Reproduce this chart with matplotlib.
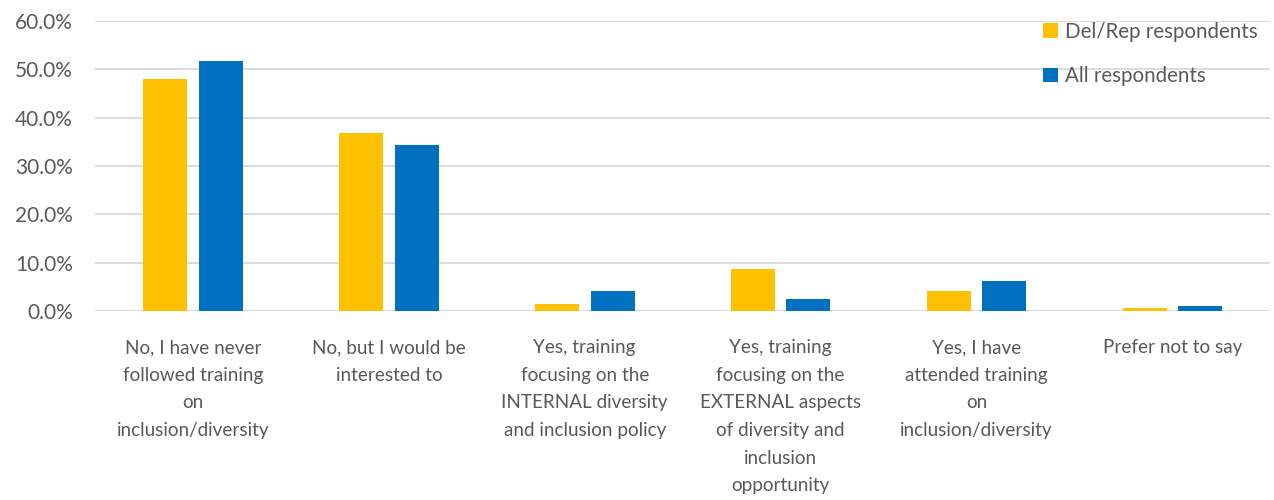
import numpy as np
import matplotlib.pyplot as plt
from matplotlib.ticker import FuncFormatter

plt.rcParams['font.family'] = ['Lato', 'DejaVu Sans']

categories = [
    "No, I have never\nfollowed training\non\ninclusion/diversity",
    "No, but I would be\ninterested to",
    "Yes, training\nfocusing on the\nINTERNAL diversity\nand inclusion policy",
    "Yes, training\nfocusing on the\nEXTERNAL aspects\nof diversity and\ninclusion\nopportunity",
    "Yes, I have\nattended training\non\ninclusion/diversity",
    "Prefer not to say",
]
delrep = [47.9, 36.8, 1.6, 8.7, 4.1, 0.6]
all_resp = [51.7, 34.3, 4.1, 2.5, 6.3, 1.0]

yellow = '#FFC000'
blue = '#0070C0'
text_col = '#595959'

fig = plt.figure(figsize=(12.74, 5.0), dpi=100)
ax = fig.add_axes([0.0746, 0.3774, 0.9225, 0.5812])

x = np.arange(len(categories))
w = 0.225
ax.bar(x - 0.142, delrep, w, color=yellow, label='Del/Rep respondents', zorder=3)
ax.bar(x + 0.142, all_resp, w, color=blue, label='All respondents', zorder=3)

ax.set_xlim(-0.5, len(categories) - 0.5)
ax.set_ylim(0, 60)
ax.set_yticks(np.arange(0, 61, 10))
ax.yaxis.set_major_formatter(FuncFormatter(lambda v, p: f'{v:.1f}%'))
ax.yaxis.grid(True, color='#d9d9d9', linewidth=1.3, zorder=0)
ax.set_axisbelow(True)
for s in ax.spines.values():
    s.set_visible(False)
ax.tick_params(axis='both', length=0, colors=text_col)
ax.tick_params(axis='y', pad=16, labelsize=15)
ax.tick_params(axis='x', pad=20, labelsize=13.6)
ax.set_xticks(x)
ax.set_xticklabels(categories, linespacing=1.76, va='top', ha='center')

leg = ax.legend(loc='upper right', bbox_to_anchor=(0.996, 1.025), frameon=False,
                fontsize=14.8, handlelength=0.7, handleheight=0.7,
                handletextpad=0.35, labelspacing=1.2, borderaxespad=0)
for t in leg.get_texts():
    t.set_color(text_col)

fig.savefig('out.png', dpi=100)
